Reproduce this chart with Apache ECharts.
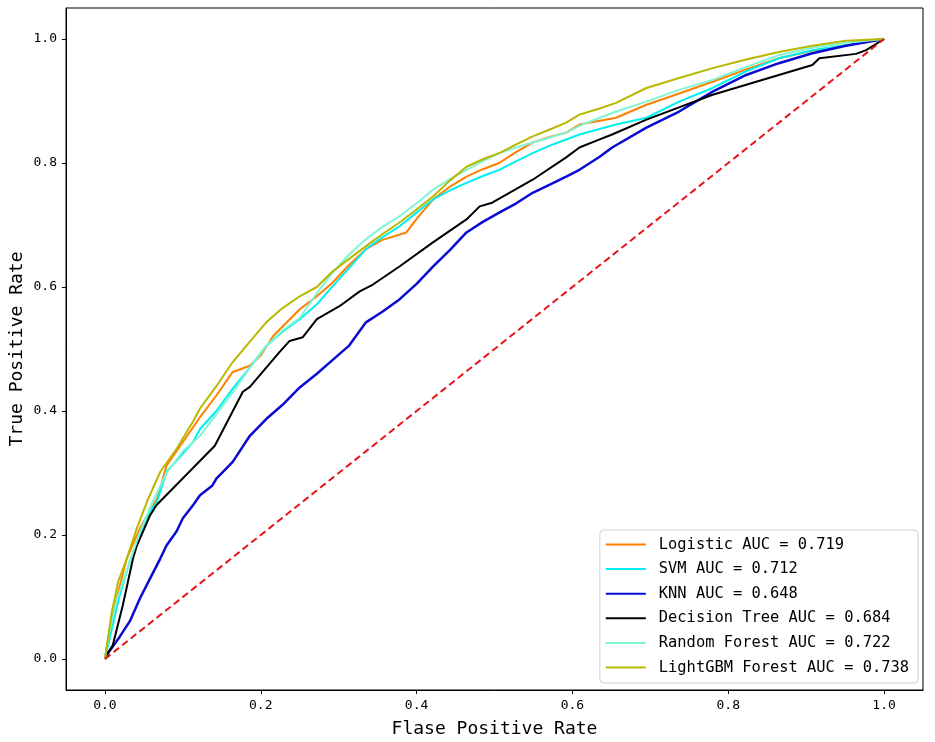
<!DOCTYPE html>
<html>
<head>
<meta charset="utf-8">
<script src="https://cdn.jsdelivr.net/npm/echarts@6/dist/echarts.min.js"></script>
<style>
  html, body { margin: 0; padding: 0; background: #fff; }
  #chart { width: 935px; height: 742px; }
</style>
</head>
<body>
<div id="chart"></div>
<script>
// ROC points: [false positive rate, true positive rate]
const LOGISTIC = [[0,0],[0.006,0.045],[0.015,0.098],[0.028,0.162],[0.045,0.211],[0.058,0.24],[0.067,0.259],[0.079,0.312],[0.1,0.35],[0.122,0.39],[0.143,0.425],[0.164,0.463],[0.186,0.473],[0.2,0.49],[0.216,0.521],[0.25,0.564],[0.272,0.585],[0.292,0.607],[0.313,0.635],[0.335,0.661],[0.356,0.676],[0.387,0.688],[0.4,0.71],[0.421,0.741],[0.443,0.762],[0.464,0.778],[0.485,0.79],[0.506,0.8],[0.528,0.818],[0.549,0.833],[0.571,0.842],[0.592,0.849],[0.609,0.862],[0.656,0.873],[0.695,0.894],[0.737,0.912],[0.78,0.931],[0.823,0.951],[0.865,0.969],[0.908,0.981],[0.951,0.99],[1,1]];
const SVM = [[0,0],[0.01,0.055],[0.019,0.103],[0.032,0.158],[0.049,0.211],[0.058,0.238],[0.067,0.254],[0.079,0.302],[0.092,0.32],[0.113,0.35],[0.122,0.371],[0.143,0.4],[0.164,0.436],[0.186,0.47],[0.207,0.505],[0.228,0.528],[0.25,0.548],[0.272,0.572],[0.292,0.601],[0.313,0.63],[0.335,0.661],[0.356,0.68],[0.378,0.698],[0.4,0.72],[0.421,0.741],[0.443,0.756],[0.464,0.768],[0.485,0.779],[0.506,0.789],[0.528,0.803],[0.549,0.816],[0.571,0.828],[0.592,0.838],[0.609,0.846],[0.656,0.862],[0.695,0.873],[0.737,0.899],[0.78,0.921],[0.823,0.948],[0.865,0.969],[0.908,0.982],[0.951,0.99],[1,1]];
const KNN = [[0,0],[0.002,0.006],[0.01,0.02],[0.019,0.036],[0.032,0.061],[0.045,0.098],[0.058,0.13],[0.071,0.162],[0.079,0.183],[0.092,0.206],[0.1,0.227],[0.113,0.248],[0.122,0.264],[0.138,0.28],[0.143,0.291],[0.164,0.318],[0.186,0.36],[0.207,0.387],[0.228,0.41],[0.25,0.438],[0.272,0.46],[0.292,0.482],[0.313,0.505],[0.335,0.543],[0.356,0.56],[0.378,0.58],[0.4,0.605],[0.421,0.633],[0.443,0.66],[0.464,0.688],[0.485,0.705],[0.506,0.72],[0.528,0.735],[0.549,0.752],[0.571,0.765],[0.592,0.778],[0.609,0.789],[0.635,0.81],[0.651,0.825],[0.695,0.857],[0.737,0.883],[0.78,0.915],[0.823,0.942],[0.865,0.961],[0.908,0.977],[0.951,0.989],[1,1]];
const TREE = [[0,0],[0.002,0.006],[0.01,0.022],[0.023,0.087],[0.036,0.162],[0.041,0.183],[0.058,0.232],[0.066,0.248],[0.141,0.344],[0.177,0.431],[0.186,0.439],[0.224,0.495],[0.237,0.513],[0.254,0.519],[0.272,0.548],[0.301,0.569],[0.327,0.593],[0.344,0.604],[0.378,0.633],[0.421,0.672],[0.464,0.709],[0.481,0.73],[0.497,0.736],[0.549,0.773],[0.592,0.809],[0.609,0.825],[0.635,0.838],[0.651,0.846],[0.695,0.87],[0.78,0.91],[0.865,0.942],[0.908,0.958],[0.917,0.969],[0.964,0.976],[0.977,0.982],[1,1]];
const FOREST = [[0,0],[0.005,0.04],[0.015,0.095],[0.03,0.15],[0.045,0.205],[0.06,0.25],[0.079,0.3],[0.1,0.335],[0.122,0.36],[0.143,0.395],[0.164,0.43],[0.186,0.47],[0.207,0.505],[0.228,0.53],[0.25,0.55],[0.272,0.59],[0.292,0.623],[0.313,0.652],[0.335,0.677],[0.356,0.697],[0.378,0.714],[0.4,0.735],[0.421,0.757],[0.443,0.774],[0.464,0.789],[0.485,0.803],[0.506,0.816],[0.528,0.825],[0.549,0.833],[0.571,0.841],[0.592,0.849],[0.609,0.86],[0.656,0.883],[0.695,0.899],[0.737,0.918],[0.78,0.934],[0.823,0.955],[0.865,0.974],[0.908,0.986],[0.951,0.994],[1,1]];
const LIGHTGBM = [[0,0],[0.002,0.018],[0.009,0.077],[0.017,0.125],[0.028,0.162],[0.041,0.211],[0.054,0.254],[0.071,0.302],[0.092,0.339],[0.113,0.383],[0.122,0.404],[0.143,0.44],[0.164,0.479],[0.186,0.512],[0.207,0.543],[0.228,0.566],[0.25,0.585],[0.272,0.6],[0.292,0.625],[0.313,0.645],[0.335,0.666],[0.356,0.685],[0.378,0.704],[0.4,0.725],[0.421,0.746],[0.443,0.772],[0.464,0.794],[0.485,0.806],[0.506,0.816],[0.528,0.83],[0.549,0.843],[0.571,0.854],[0.592,0.865],[0.609,0.878],[0.635,0.888],[0.656,0.897],[0.695,0.921],[0.737,0.937],[0.78,0.953],[0.823,0.967],[0.865,0.979],[0.908,0.989],[0.951,0.997],[1,1]];
const CHANCE = [[0,0],[1,1]];

const MODEL_NAMES = ['Logistic AUC = 0.719', 'SVM AUC = 0.712', 'KNN AUC = 0.648',
	'Decision Tree AUC = 0.684', 'Random Forest AUC = 0.722', 'LightGBM Forest AUC = 0.738'];
const MODEL_DATA = [LOGISTIC, SVM, KNN, TREE, FOREST, LIGHTGBM];
const MODEL_COLORS = ['#ff8000', '#00f0f0', '#0a0ad0', '#000000', '#7ff5d4', '#b8b800'];
const MODEL_WIDTHS = [2, 2, 2.5, 2, 2, 2];
const TICKS = [0, 0.2, 0.4, 0.6, 0.8, 1.0];

const FONT = '"DejaVu Sans Mono", monospace';

function axis(name, gap) {
	return {
		type: 'value', min: -0.05, max: 1.05,
		name: name, nameLocation: 'middle', nameGap: gap, nameMoveOverlap: false,
		nameTextStyle: { fontFamily: FONT, fontSize: 18, color: '#000' },
		axisLine: { show: true, onZero: false, lineStyle: { color: '#000', width: 1 } },
		axisTick: { show: true, customValues: TICKS, length: 4, lineStyle: { color: '#000' } },
		axisLabel: { customValues: TICKS, formatter: v => v.toFixed(1), fontFamily: FONT, fontSize: 13, color: '#000', margin: 9 },
		splitLine: { show: false }
	};
}

let chart = echarts.init(document.getElementById('chart'));
chart.setOption({
	animation: false,
	backgroundColor: '#fff',
	grid: { left: 66, top: 8, right: 12, bottom: 52, containLabel: false, outerBoundsMode: 'none',
		show: true, borderColor: '#000', borderWidth: 1 },
	xAxis: axis('Flase Positive Rate', 30),
	yAxis: axis('True Positive Rate', 40),
	legend: {
		orient: 'vertical', right: 17, bottom: 59,
		data: MODEL_NAMES, icon: 'rect', itemWidth: 40, itemHeight: 2, itemGap: 9.6,
		backgroundColor: '#fff', borderColor: '#d0d0d0', borderWidth: 1, borderRadius: 4,
		padding: [7, 9, 8, 6],
		textStyle: { fontFamily: FONT, fontSize: 15.4, lineHeight: 15, color: '#000', padding: [0, 0, 0, 8] }
	},
	series: MODEL_NAMES.map((name, i) => ({
		name: name, type: 'line', data: MODEL_DATA[i], showSymbol: false, symbol: 'none',
		lineStyle: { color: MODEL_COLORS[i], width: MODEL_WIDTHS[i] }, itemStyle: { color: MODEL_COLORS[i] }
	})).concat([{
		name: 'chance', type: 'line', data: CHANCE, showSymbol: false, symbol: 'none',
		lineStyle: { color: '#e8141a', width: 2, type: [7, 4] }
	}])
});
</script>
</body>
</html>
